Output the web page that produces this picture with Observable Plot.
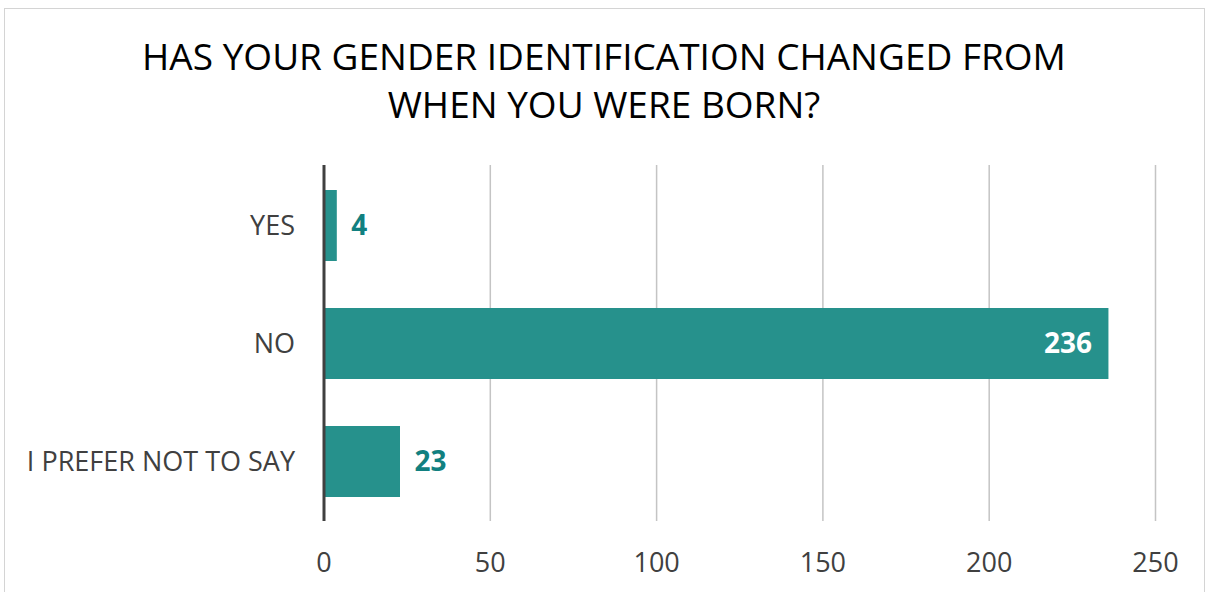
<!DOCTYPE html>
<html>
<head>
<meta charset="utf-8">
<script src="https://cdn.jsdelivr.net/npm/d3@7"></script>
<script src="https://cdn.jsdelivr.net/npm/@observablehq/plot@0.6"></script>
<style>
  html, body { margin: 0; padding: 0; background: #fff; }
  body { width: 1208px; height: 592px; overflow: hidden; position: relative; font-family: "Open Sans", sans-serif; }
  #frame { position: absolute; left: 4px; top: 8px; width: 1201px; height: 640px; border: 1.5px solid #d4d4d4; box-sizing: border-box; }
  #title { position: absolute; left: 0; top: 0; width: 1208px; height: 140px; text-align: center; color: #000; font-size: 37px; line-height: 48px; padding-top: 32px; box-sizing: border-box; }
  #chart { position: absolute; left: 0; top: 140px; }
</style>
</head>
<body>
<div id="frame"></div>
<div id="title">HAS YOUR GENDER IDENTIFICATION CHANGED FROM<br>WHEN YOU WERE BORN?</div>
<div id="chart"></div>
<script>
const categories = ["YES", "NO", "I PREFER NOT TO SAY"];
const values = [4, 236, 23];
const xTicks = [0, 50, 100, 150, 200, 250];
const insideLabel = ["NO"];

const data = categories.map((c, i) => ({ category: c, value: values[i], inside: insideLabel.includes(c) }));

const plot = Plot.plot({
  width: 1208,
  height: 452,
  marginLeft: 323.5,
  marginRight: 53,
  marginTop: 25,
  marginBottom: 71,
  style: { fontFamily: "Open Sans, sans-serif", background: "transparent" },
  x: { domain: [0, 250], ticks: xTicks, label: null },
  y: { domain: categories, paddingInner: 0.4, paddingOuter: 0.2, label: null },
  marks: [
    Plot.ruleX(xTicks.filter(t => t > 0), { stroke: "#c4c4c4", strokeWidth: 1.5 }),
    Plot.barX(data, { x: "value", y: "category", fill: "#26918c" }),
    Plot.ruleX([0], { stroke: "#404040", strokeWidth: 3 }),
    Plot.axisX({ ticks: xTicks, tickSize: 0, tickPadding: 31, fontSize: 27, fill: "#404040", label: null }),
    Plot.axisY({ tickSize: 0, tickPadding: 29, fontSize: 27, fill: "#404040", label: null }),
    Plot.text(data.filter(d => !d.inside), { x: "value", y: "category", text: d => String(d.value), textAnchor: "start", dx: 14, fill: "#118080", fontWeight: "bold", fontSize: 28 }),
    Plot.text(data.filter(d => d.inside), { x: "value", y: "category", text: d => String(d.value), textAnchor: "end", dx: -17, fill: "#ffffff", fontWeight: "bold", fontSize: 28 })
  ]
});
document.getElementById("chart").appendChild(plot);
</script>
</body>
</html>
